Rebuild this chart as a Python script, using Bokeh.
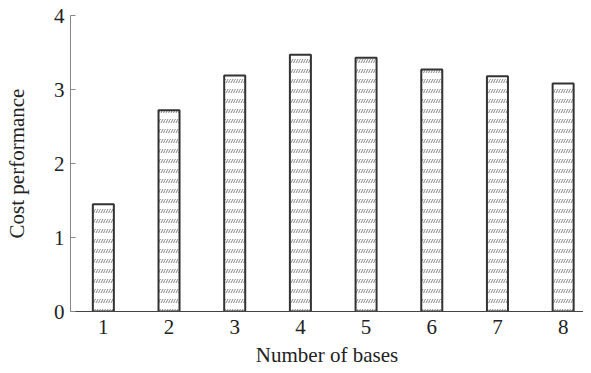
from bokeh.plotting import figure
from bokeh.models import Range1d, FixedTicker
from bokeh.embed import file_html
from bokeh.resources import INLINE

bases = [1, 2, 3, 4, 5, 6, 7, 8]
cost_performance = [1.45, 2.72, 3.19, 3.47, 3.43, 3.27, 3.18, 3.08]
y_ticks = [0, 1, 2, 3, 4]

FONT = "Liberation Serif"

p = figure(width=583, height=373, output_backend="svg", toolbar_location=None,
           x_range=Range1d(0.5, 8.31), y_range=Range1d(0, 4),
           min_border_left=70, min_border_right=0, min_border_top=15, min_border_bottom=62)
p.outline_line_color = None
p.grid.grid_line_color = None

# hatched bars: slashes, then white horizontal bands to break into rows
p.vbar(x=bases, top=cost_performance, width=0.32, fill_color="white",
       hatch_pattern="/", hatch_scale=5, hatch_weight=0.8, hatch_color="#666666",
       line_color=None)
p.vbar(x=bases, top=cost_performance, width=0.32, fill_alpha=0,
       hatch_pattern="-", hatch_scale=10, hatch_weight=6, hatch_color="white",
       line_color=None)
p.vbar(x=bases, top=cost_performance, width=0.32, fill_alpha=0,
       line_color="#333333", line_width=2)

p.xaxis.ticker = FixedTicker(ticks=bases)
p.yaxis.ticker = FixedTicker(ticks=y_ticks)
p.xaxis.major_tick_in = 0
p.xaxis.major_tick_out = 0
p.yaxis.major_tick_in = 5
p.yaxis.major_tick_out = 0
p.axis.minor_tick_line_color = None
p.xaxis.axis_line_color = "#444444"
p.yaxis.axis_line_color = "#888888"
p.yaxis.major_tick_line_color = "#888888"
p.axis.major_label_text_font = FONT
p.axis.major_label_text_font_size = "21px"
p.axis.major_label_text_color = "#222222"
p.axis.axis_label_text_font = FONT
p.axis.axis_label_text_font_size = "21px"
p.axis.axis_label_text_font_style = "normal"
p.axis.axis_label_text_color = "#222222"
p.xaxis.axis_label = "Number of bases"
p.yaxis.axis_label = "Cost performance"
p.xaxis.major_label_standoff = 8
p.xaxis.axis_label_standoff = 6
p.yaxis.major_label_standoff = 6
p.yaxis.axis_label_standoff = 22

open("out.html", "w").write(file_html(p, INLINE))
